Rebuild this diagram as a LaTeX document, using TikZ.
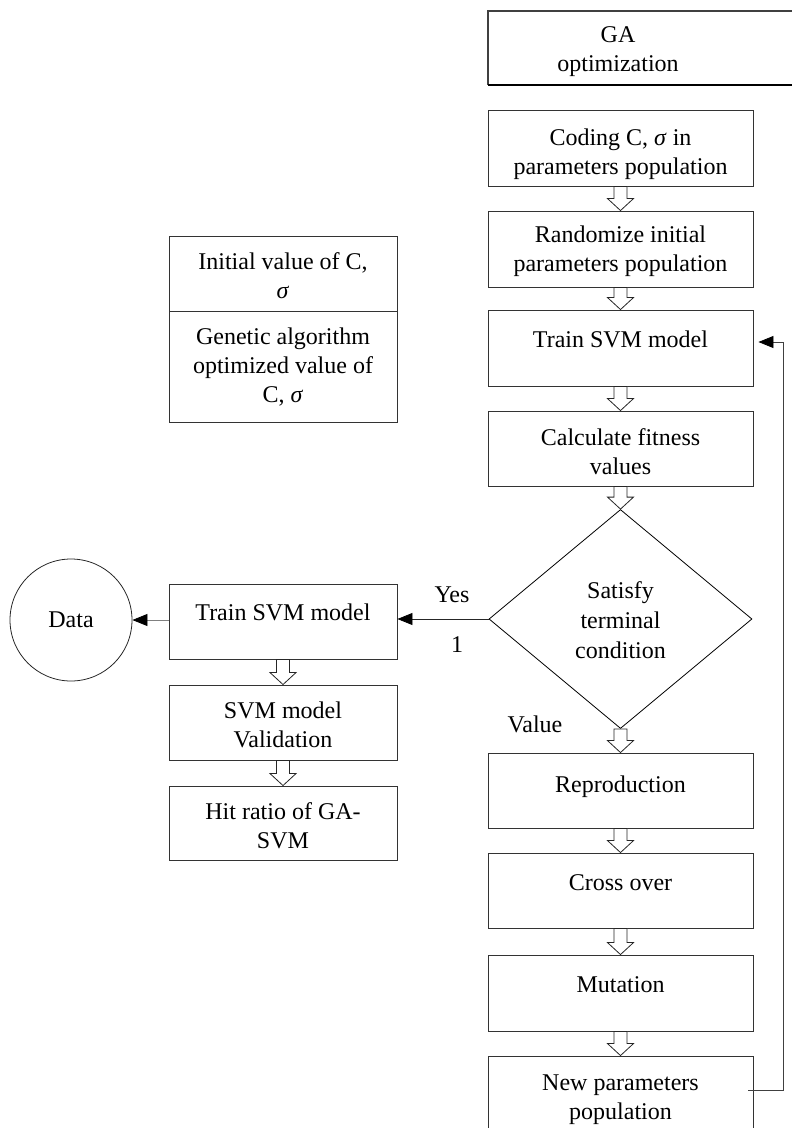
\documentclass[tikz,border=0pt]{standalone}
\usepackage{fontspec}
\setmainfont{Liberation Serif}
\usetikzlibrary{shapes.geometric,arrows.meta,calc}
\tikzset{
  txt/.style={inner sep=0pt, align=center, font=\fontsize{24}{29}\selectfont},
  box/.style={draw=black!80, line width=0.9pt, inner sep=0pt},
  rbox/.style={box, minimum width=265pt, minimum height=76pt},
  lbox/.style={box, minimum width=228pt, minimum height=75pt},
  hollowst/.style={draw=black!85, line width=0.8pt, fill=white, line join=miter},
  tri/.style={draw=black!85, line width=0.8pt,
    -{Triangle[length=15pt,width=12pt,color=black]}},
}
\newcommand\hollowarr[2]{%
  \draw[hollowst] let \p1=(#1.south), \p2=(#2.north) in
    (\x1-6.5pt,\y1) -- (\x1+6.5pt,\y1) -- (\x1+6.5pt,\y2+12pt) -- (\x1+13pt,\y2+12pt)
    -- (\x1,\y2) -- (\x1-13pt,\y2+12pt) -- (\x1-6.5pt,\y2+12pt) -- cycle;}
\begin{document}
\begin{tikzpicture}[x=1pt,y=-1pt]
\path[use as bounding box] (0,0) rectangle (792,1128);
\clip (0,0) rectangle (792,1128);

% GA optimization frame (right edge outside the page)
\coordinate (gatr) at (800,11);
\coordinate (gatl) at (488,11);
\coordinate (gabl) at (488,85);
\coordinate (gabr) at (800,85);
\draw[draw=black!75, line width=1.2pt] (gatr) -- (gatl) -- (gabl);
\draw[draw=black, line width=1.2pt] (gabl) -- (gabr);
\node[txt] (ga) at (618,52) {GA\\optimization};

% right chain
\node[rbox] (coding) at (620.5,148) {};
\node[txt] (codingt) at ([yshift=-6pt]coding.center) {Coding C, \textit{σ} in\\parameters population};
\node[rbox] (random) at (620.5,249) {};
\node[txt] (randomt) at ([yshift=-2.5pt]random.center) {Randomize initial\\parameters population};
\node[rbox] (trainr) at (620.5,348) {};
\node[txt, anchor=base] (trainrt) at ([yshift=1pt]trainr.center) {Train SVM model};
\node[rbox, minimum height=75pt] (calc) at (620.5,448.5) {};
\node[txt] (calct) at ([yshift=-3pt]calc.center) {Calculate fitness\\values};
\node[draw=black, line width=0.8pt, diamond, aspect=1.2, minimum width=263pt,
  minimum height=219pt, inner sep=0pt] (diam) at (620.5,619) {};
\node[txt, font=\fontsize{24}{30}\selectfont] (diamt) at ([yshift=-1.5pt]diam.center) {Satisfy\\terminal\\condition};
\node[rbox, minimum height=75pt] (repro) at (620.5,790.5) {};
\node[txt, anchor=base] (reprot) at ([yshift=-1.5pt]repro.center) {Reproduction};
\node[rbox, minimum height=75pt] (cross) at (620.5,890.5) {};
\node[txt, anchor=base] (crosst) at (cross.center) {Cross over};
\node[rbox] (mut) at (620.5,993) {};
\node[txt, anchor=base] (mutt) at ([yshift=1pt]mut.center) {Mutation};
\node[rbox] (newp) at (620.5,1094) {};
\node[txt] (newpt) at ([yshift=-6pt]newp.center) {New parameters\\population};

% left info box
\node[lbox] (infoa) at (283,273.5) {};
\node[txt] (infoat) at ([yshift=-2pt]infoa.center) {Initial value of C,\\\textit{σ}};
\node[lbox, minimum height=111pt] (infob) at (283,366.5) {};
\node[txt] (infobt) at ([yshift=-1pt]infob.center) {Genetic algorithm\\optimized value of\\C, \textit{σ}};

% left chain
\node[lbox] (trainl) at (283,621.5) {};
\node[txt, anchor=base] (trainlt) at ([yshift=1.5pt]trainl.center) {Train SVM model};
\node[lbox] (valid) at (283,722.5) {};
\node[txt] (validt) at ([yshift=-2.5pt]valid.center) {SVM model\\Validation};
\node[lbox, minimum height=74pt] (hit) at (283,823) {};
\node[txt] (hitt) at ([yshift=-3pt]hit.center) {Hit ratio of GA-\\SVM};
\node[draw=black!85, line width=0.8pt, circle, minimum size=122pt, inner sep=0pt,
  font=\fontsize{24}{29}\selectfont] (data) at (71,620) {Data};

% hollow block arrows
\hollowarr{coding}{random}
\hollowarr{random}{trainr}
\hollowarr{trainr}{calc}
\hollowarr{calc}{diam}
\hollowarr{diam}{repro}
\hollowarr{repro}{cross}
\hollowarr{cross}{mut}
\hollowarr{mut}{newp}
\hollowarr{trainl}{valid}
\hollowarr{valid}{hit}

% connectors
\draw[tri] (diam.west) -- (diam.west -| trainl.east);
\draw[tri, draw=black!50] ([yshift=1.5pt]trainl.west) -- (data.east);
\draw[tri, draw=black!75] ([xshift=-5pt,yshift=4pt]newp.east) -- ++(35,0)
  |- ([xshift=5pt,yshift=6pt]trainr.east);

% labels
\node[txt, anchor=base] (yes) at (452,602) {Yes};
\node[txt, anchor=base] (one) at (457,652) {1};
\node[txt, anchor=base] (value) at (535,732) {Value};
\end{tikzpicture}
\end{document}
